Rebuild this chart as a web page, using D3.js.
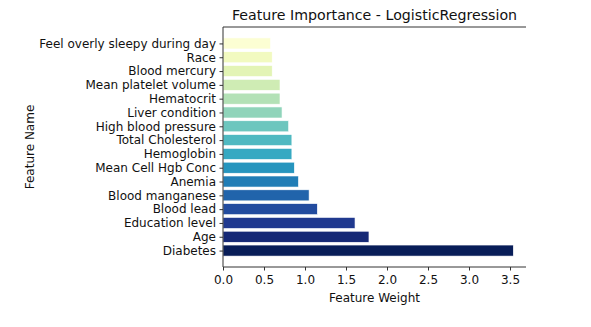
<!DOCTYPE html>
<html>
<head>
<meta charset="utf-8">
<script src="https://cdn.jsdelivr.net/npm/d3@7"></script>
<style>
  body { margin: 0; background: #fff; }
  text { font-family: "DejaVu Sans", sans-serif; fill: #111; }
</style>
</head>
<body>
<script>
// features listed bottom to top (largest first), as in the plot
var features = ['Diabetes', 'Age', 'Education level', 'Blood lead', 'Blood manganese', 'Anemia',
  'Mean Cell Hgb Conc', 'Hemoglobin', 'Total Cholesterol', 'High blood pressure', 'Liver condition',
  'Hematocrit', 'Mean platelet volume', 'Blood mercury', 'Race', 'Feel overly sleepy during day'];
var weights = [3.54, 1.78, 1.61, 1.15, 1.05, 0.92, 0.87, 0.84, 0.84, 0.80, 0.72, 0.695, 0.695, 0.60, 0.60, 0.58];
var xTicks = [0, 0.5, 1, 1.5, 2, 2.5, 3, 3.5];

var W = 591, H = 327;
var axLeft = 223, axRight = 526, axTop = 27, axBottom = 267;

var svg = d3.select("body").append("svg")
  .attr("width", W)
  .attr("height", H);

var x = d3.scaleLinear().domain([0, 3.695]).range([axLeft, axRight]);
// matplotlib style limits: bars at integer positions, with margins
var y = d3.scaleLinear().domain([-1.19, features.length - 1 + 1.19]).range([axBottom, axTop]);
var bandH = (y(0) - y(1)) * 0.8;

var n = features.length;
function colorFor(i) {
  // YlGnBu, darkest at the bottom bar
  var t = 0.02 + 0.98 * (n - 1 - i) / (n - 1);
  return d3.interpolateYlGnBu(t);
}

svg.selectAll("rect.bar")
  .data(weights)
  .enter().append("rect")
    .attr("class", "bar")
    .attr("x", x(0))
    .attr("y", function(d, i) { return y(i) - bandH / 2; })
    .attr("width", function(d) { return x(d) - x(0); })
    .attr("height", bandH)
    .attr("fill", function(d, i) { return colorFor(i); })
    .attr("stroke", "#ffffff")
    .attr("stroke-width", 0.6);

// x axis
var xAxis = d3.axisBottom(x)
  .tickValues(xTicks)
  .tickFormat(d3.format(".1f"))
  .tickSize(3.5)
  .tickPadding(5);
var gx = svg.append("g")
  .attr("transform", "translate(0," + axBottom + ")")
  .call(xAxis);
gx.select(".domain").remove();
gx.append("line").attr("x1", axLeft).attr("x2", axRight).attr("stroke", "#333").attr("stroke-width", 1);
gx.selectAll("text").attr("font-size", 12).style("fill", "#111");
gx.selectAll(".tick line").attr("stroke", "#333");

// y axis
var yAxis = d3.axisLeft(y)
  .tickValues(d3.range(n))
  .tickFormat(function(i) { return features[i]; })
  .tickSize(3.5)
  .tickPadding(3.5);
var gy = svg.append("g")
  .attr("transform", "translate(" + axLeft + ",0)")
  .call(yAxis);
gy.select(".domain").remove();
gy.append("line").attr("y1", axTop).attr("y2", axBottom).attr("stroke", "#333").attr("stroke-width", 1);
gy.selectAll("text").attr("font-size", 12).style("fill", "#111");
gy.selectAll(".tick line").attr("stroke", "#333");

// top spine
svg.append("line")
  .attr("x1", axLeft).attr("x2", axRight)
  .attr("y1", axTop).attr("y2", axTop)
  .attr("stroke", "#333").attr("stroke-width", 1);

// title and labels
svg.append("text")
  .attr("x", (axLeft + axRight) / 2)
  .attr("y", 20)
  .attr("text-anchor", "middle")
  .attr("font-size", 14.2)
  .text("Feature Importance - LogisticRegression");

svg.append("text")
  .attr("x", (axLeft + axRight) / 2)
  .attr("y", 302)
  .attr("text-anchor", "middle")
  .attr("font-size", 12)
  .text("Feature Weight");

svg.append("text")
  .attr("transform", "translate(34," + ((axTop + axBottom) / 2) + ") rotate(-90)")
  .attr("text-anchor", "middle")
  .attr("font-size", 12)
  .text("Feature Name");
</script>
</body>
</html>
